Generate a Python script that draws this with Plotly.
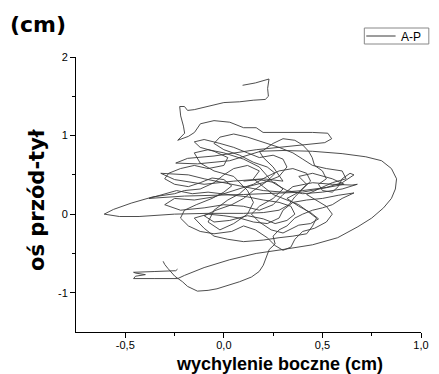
import plotly.graph_objects as go

# Segment 1: top excursion, central loops, big ellipse, bottom-left zigzag
x1 = [0.095, 0.16, 0.229, 0.222, 0.226, 0.21, 0.149, 0.08, 0.0, -0.085, -0.15, -0.184, -0.20, -0.224,
      -0.219, -0.205, -0.199, -0.234, -0.18, -0.149, -0.119, -0.05, 0.03, 0.10, 0.164, 0.199, 0.30, 0.45,
      0.527, 0.547, 0.512, 0.363, 0.164, -0.05, -0.184, -0.244, -0.134, 0.03, 0.149, 0.199, 0.25, 0.30,
      0.36, 0.40, 0.43, 0.448, 0.46, 0.50, 0.52, 0.48, 0.50, 0.55, 0.58, 0.60, 0.64, 0.66, 0.60, 0.52,
      0.40, 0.30, 0.20, 0.10, 0.0, -0.10, -0.18, -0.32, -0.25, -0.10, 0.05, 0.20, 0.30, 0.25, 0.20, 0.18,
      0.30, 0.45, 0.60, 0.72, 0.80, 0.85, 0.876, 0.87, 0.85, 0.81, 0.75, 0.68, 0.577, 0.45, 0.30, 0.164,
      0.03, -0.10, -0.20, -0.234, -0.35, -0.458, -0.448, -0.398, -0.448, -0.458, -0.35, -0.244, -0.235]
y1 = [1.64, 1.67, 1.72, 1.60, 1.50, 1.46, 1.45, 1.43, 1.42, 1.37, 1.33, 1.32, 1.37, 1.37,
      1.25, 1.12, 1.03, 0.94, 0.99, 1.04, 1.15, 1.19, 1.17, 1.10, 1.10, 1.04, 1.04, 1.04,
      1.03, 0.96, 0.91, 0.87, 0.82, 0.74, 0.71, 0.65, 0.64, 0.68, 0.77, 0.81, 0.90, 0.96,
      0.94, 0.88, 0.80, 0.72, 0.62, 0.55, 0.45, 0.38, 0.30, 0.28, 0.35, 0.45, 0.52, 0.50, 0.40, 0.34,
      0.30, 0.28, 0.30, 0.35, 0.40, 0.45, 0.50, 0.52, 0.44, 0.38, 0.42, 0.45, 0.42, 0.60, 0.72, 0.80,
      0.81, 0.80, 0.77, 0.73, 0.68, 0.58, 0.45, 0.32, 0.20, 0.08, -0.05, -0.16, -0.30, -0.39, -0.45, -0.50,
      -0.58, -0.68, -0.78, -0.82, -0.82, -0.82, -0.79, -0.77, -0.75, -0.74, -0.73, -0.72, -0.70]

# Segment 2: bottom hook, dense centre, left spike, more centre loops
x2 = [-0.308, -0.30, -0.284, -0.249, -0.21, -0.184, -0.134, -0.08, -0.035, 0.03, 0.08, 0.14, 0.179, 0.20,
      0.214, 0.23, 0.26, 0.25, 0.28, 0.32, 0.36, 0.40, 0.45, 0.50, 0.55, 0.60, 0.66, 0.58, 0.50, 0.42,
      0.35, 0.30, 0.28, 0.22, 0.15, 0.08, 0.0, -0.08, -0.15, -0.10, -0.05, 0.02, 0.10, 0.20, 0.28, 0.35,
      0.42, 0.45, 0.47, 0.42, 0.38, 0.30, 0.25, 0.20, 0.15, 0.18, 0.12, 0.05, 0.0, -0.05, -0.12, -0.20,
      -0.25, -0.36, -0.47, -0.56, -0.607, -0.53, -0.43, -0.25, -0.085, 0.10, 0.20, 0.28, 0.33, 0.36, 0.40,
      0.44, 0.42, 0.35, 0.28, 0.22, 0.15, 0.05, -0.05, -0.15, -0.25, -0.30, -0.22, -0.10, 0.0, 0.10, 0.18,
      0.25, 0.30, 0.35, 0.45, 0.55, 0.65, 0.677, 0.60, 0.50, 0.40, 0.32, 0.25, 0.18, 0.10, 0.0, -0.08,
      -0.15, -0.12, -0.05, 0.05, 0.12, 0.15, 0.12, 0.05, -0.02, -0.08, -0.05, 0.02, 0.08,
      0.12, 0.20, 0.28, 0.32, 0.30, 0.25, 0.18, 0.12, 0.05, -0.02, -0.10, -0.15, -0.12, -0.05, 0.02,
      0.0, -0.08, -0.15, -0.22, -0.28, -0.30, -0.25, -0.18, -0.12, -0.06, 0.0, 0.04, 0.0, -0.06, -0.14,
      -0.20, -0.22, -0.18, -0.12, -0.05, 0.04, 0.10, 0.16, 0.22, 0.26, 0.30, 0.34, 0.36, 0.40, 0.46,
      0.52, 0.55, 0.52, 0.47, 0.42, 0.48, 0.55, 0.62, 0.60, 0.52, 0.45, 0.40, 0.35, 0.28, 0.20, 0.12,
      0.05, -0.02, -0.05, 0.0, 0.08, 0.15, 0.22, 0.26, 0.22, 0.15, 0.10, 0.04, -0.04, -0.10, -0.05,
      0.03, 0.12, 0.20, 0.26, 0.32, 0.36, 0.34, 0.28, 0.20, 0.12, 0.02, -0.08, -0.16, -0.24, -0.38,
      -0.20, 0.10, 0.40, 0.61, 0.55, 0.45, 0.38, 0.42, 0.38, 0.32, 0.38, 0.44, 0.48, 0.44, 0.38, 0.30,
      0.24, 0.18, 0.14, 0.18, 0.25, 0.30, 0.26, 0.18, 0.10]
y2 = [-0.60, -0.64, -0.69, -0.79, -0.86, -0.92, -0.98, -0.97, -0.95, -0.90, -0.86, -0.80, -0.73, -0.65,
      -0.56, -0.45, -0.38, -0.28, -0.20, -0.15, -0.05, 0.0, 0.05, 0.08, 0.12, 0.20, 0.27, 0.24, 0.20, 0.18,
      0.15, 0.05, -0.05, -0.12, -0.10, -0.05, -0.02, 0.0, -0.05, -0.18, -0.28, -0.32, -0.35, -0.33, -0.30, -0.28,
      -0.25, -0.15, -0.05, 0.05, 0.12, 0.20, 0.25, 0.35, 0.45, 0.55, 0.62, 0.58, 0.50, 0.40, 0.32, 0.30,
      0.26, 0.22, 0.14, 0.06, 0.0, -0.03, -0.03, 0.0, 0.01, 0.01, 0.02, 0.05, 0.12, 0.22, 0.32,
      0.42, 0.52, 0.58, 0.55, 0.48, 0.38, 0.30, 0.22, 0.18, 0.20, 0.12, 0.05, 0.08, 0.12, 0.10, 0.05,
      0.12, 0.25, 0.35, 0.40, 0.38, 0.37, 0.38, 0.32, 0.28, 0.26, 0.30, 0.40, 0.60, 0.70, 0.78, 0.82,
      0.78, 0.65, 0.55, 0.48, 0.30, 0.15, 0.0, -0.12, -0.20, -0.10, 0.05, 0.18, 0.26,
      0.35, 0.40, 0.48, 0.60, 0.70, 0.75, 0.72, 0.78, 0.85, 0.90, 0.95, 0.92, 0.85, 0.80, 0.72,
      0.62, 0.58, 0.62, 0.58, 0.52, 0.45, 0.38, 0.35, 0.40, 0.46, 0.44, 0.36, 0.28, 0.20, 0.12,
      0.05, -0.05, -0.15, -0.22, -0.25, -0.22, -0.15, -0.20, -0.30, -0.40, -0.46, -0.42, -0.32, -0.22, -0.18,
      -0.10, 0.0, 0.10, 0.18, 0.25, 0.32, 0.40, 0.45, 0.55, 0.58, 0.62, 0.70, 0.78, 0.85, 0.92, 0.98,
      1.02, 0.98, 0.90, 0.82, 0.75, 0.66, 0.60, 0.52, 0.42, 0.30, 0.20, 0.12, 0.05, -0.02, -0.10,
      -0.08, -0.02, -0.06, -0.12, -0.08, 0.0, 0.10, 0.15, 0.18, 0.22, 0.25, 0.28, 0.26, 0.30, 0.20,
      0.23, 0.25, 0.28, 0.38, 0.45, 0.52, 0.48, 0.38, 0.28, 0.20, 0.10, 0.02, -0.06, -0.12, -0.14, -0.24,
      -0.20, -0.10, 0.0, 0.10, 0.20, 0.32, 0.40, 0.44, 0.42]

x_vals = x1 + [None] + x2
y_vals = y1 + [None] + y2

x_ticks = [-0.5, 0.0, 0.5, 1.0]
x_tick_labels = ["-0,5", "0,0", "0,5", "1,0"]
y_ticks = [-1, 0, 1, 2]
y_tick_labels = ["-1", "0", "1", "2"]
series_name = "A-P"

fig = go.Figure()
fig.add_trace(go.Scatter(x=x_vals, y=y_vals, mode="lines", name=series_name,
                         line=dict(color="#3a3a3a", width=0.9), connectgaps=False,
                         showlegend=False))

L, T, W, H = 76, 57, 353, 275


def px(xp):
    return (xp - L) / W


def py(yp):
    return (T + H - yp) / H


tickfont = dict(family="Liberation Sans", size=11, color="black")
fig.update_layout(
    width=439, height=374,
    margin=dict(l=76, r=10, t=57, b=42),
    paper_bgcolor="white", plot_bgcolor="white",
    showlegend=False,
    xaxis=dict(range=[-0.75, 1.0], showgrid=False, zeroline=False, showline=True,
               linecolor="black", linewidth=1, ticks="outside", ticklen=5, tickcolor="black",
               tickvals=x_ticks, ticktext=x_tick_labels, tickfont=tickfont, ticklabelstandoff=-2,
               minor=dict(tickvals=[-0.25, 0.25, 0.75], ticks="outside", ticklen=3, tickcolor="black")),
    yaxis=dict(range=[-1.5, 2.0], showgrid=False, zeroline=False, showline=True,
               linecolor="black", linewidth=1, ticks="outside", ticklen=5, tickcolor="black",
               tickvals=y_ticks, ticktext=y_tick_labels, tickfont=tickfont,
               minor=dict(tickvals=[-0.5, 0.5, 1.5], ticks="outside", ticklen=3, tickcolor="black")),
    shapes=[
        dict(type="rect", xref="paper", yref="paper", x0=px(371), x1=px(437), y0=py(44), y1=py(28),
             line=dict(color="#888", width=1), fillcolor="white"),
        dict(type="line", xref="paper", yref="paper", x0=px(373), x1=px(403), y0=py(36), y1=py(36),
             line=dict(color="#3a3a3a", width=1)),
    ],
    annotations=[
        dict(text=series_name, xref="paper", yref="paper", x=px(406), y=py(36.5),
             xanchor="left", yanchor="middle", showarrow=False,
             font=dict(family="Liberation Sans", size=12, color="black")),
        dict(text="<b>wychylenie boczne (cm)</b>", xref="paper", yref="paper",
             x=px(284), y=py(364), xanchor="center", yanchor="middle",
             showarrow=False, font=dict(family="Liberation Sans", size=18, color="black")),
        dict(text="<b>oś przód-tył</b>", xref="paper", yref="paper",
             x=px(36), y=py(199), xanchor="center", yanchor="middle",
             textangle=-90, showarrow=False, font=dict(family="DejaVu Sans", size=21, color="black")),
        dict(text="<b>(cm)</b>", xref="paper", yref="paper",
             x=px(37), y=py(25), xanchor="center", yanchor="middle",
             showarrow=False, font=dict(family="DejaVu Sans", size=22, color="black")),
    ],
)

fig.write_html("out.html")
